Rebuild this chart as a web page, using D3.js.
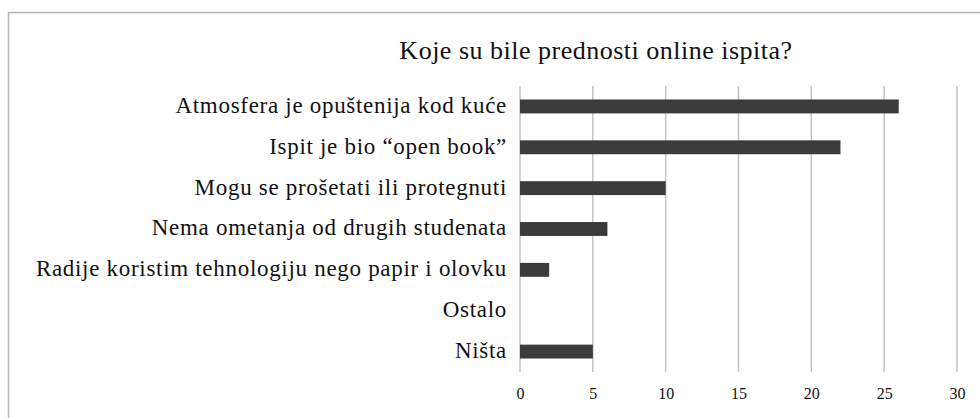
<!DOCTYPE html>
<html>
<head>
<meta charset="utf-8">
<script src="https://cdn.jsdelivr.net/npm/d3@7"></script>
<style>
  body { margin: 0; background: #fff; }
  svg { display: block; font-family: "Liberation Serif", "DejaVu Serif", serif; }
</style>
</head>
<body>
<div class="chart"></div>
<script>
// chart data
var categories = [
  'Atmosfera je opuštenija kod kuće',
  'Ispit je bio “open book”',
  'Mogu se prošetati ili protegnuti',
  'Nema ometanja od drugih studenata',
  'Radije koristim tehnologiju nego papir i olovku',
  'Ostalo',
  'Ništa'
];
var values = [26, 22, 10, 6, 2, 0, 5];
var tickValues = [0, 5, 10, 15, 20, 25, 30];
var title = 'Koje su bile prednosti online ispita?';

var width = 980, height = 418;
let margin = {top: 86, right: 23, bottom: 46, left: 520};

const svg = d3.select('.chart').append('svg')
    .attr('width', width)
    .attr('height', height);

// outer frame (runs off the right and bottom edge)
svg.append('rect')
    .attr('x', 8.5).attr('y', 12.5)
    .attr('width', 1000).attr('height', 500)
    .attr('fill', 'none')
    .attr('stroke', '#b5b5b5')
    .attr('stroke-width', 1.5);

var x = d3.scaleLinear()
    .domain([0, 30])
    .range([margin.left, width - margin.right]);

var y = d3.scaleBand()
    .domain(categories)
    .range([margin.top, height - margin.bottom])
    .paddingInner(0.66)
    .paddingOuter(0.33);

// vertical gridlines
svg.append('g')
    .selectAll('line')
    .data(tickValues)
    .enter()
    .append('line')
    .attr('x1', d => x(d)).attr('x2', d => x(d))
    .attr('y1', margin.top).attr('y2', height - margin.bottom)
    .attr('stroke', '#c4c4c4')
    .attr('stroke-width', 1.5);

// bars
svg.append('g')
    .selectAll('rect')
    .data(values)
    .enter()
    .append('rect')
    .attr('x', x(0))
    .attr('y', (d, i) => y(categories[i]))
    .attr('width', d => x(d) - x(0))
    .attr('height', y.bandwidth())
    .attr('fill', '#3b3b3b');

// category labels
svg.append('g')
    .selectAll('text')
    .data(categories)
    .enter()
    .append('text')
    .attr('x', margin.left - 13)
    .attr('y', d => y(d) + y.bandwidth() / 2)
    .attr('dy', '0.28em')
    .attr('text-anchor', 'end')
    .attr('font-size', 23)
    .attr('letter-spacing', 0.7)
    .attr('fill', '#111')
    .text(d => d);

// x axis tick labels
var xAxis = d3.axisBottom(x)
    .tickValues(tickValues)
    .tickSize(0)
    .tickPadding(0);

var gx = svg.append('g')
    .attr('transform', 'translate(0,388)')
    .call(xAxis);
gx.select('.domain').remove();
gx.selectAll('text')
    .attr('font-family', '"Liberation Serif", serif')
    .attr('font-size', 16)
    .attr('fill', '#111');

// title
svg.append('text')
    .attr('x', 596)
    .attr('y', 59)
    .attr('text-anchor', 'middle')
    .attr('font-size', 26)
    .attr('letter-spacing', 0.5)
    .attr('fill', '#111')
    .text(title);
</script>
</body>
</html>
